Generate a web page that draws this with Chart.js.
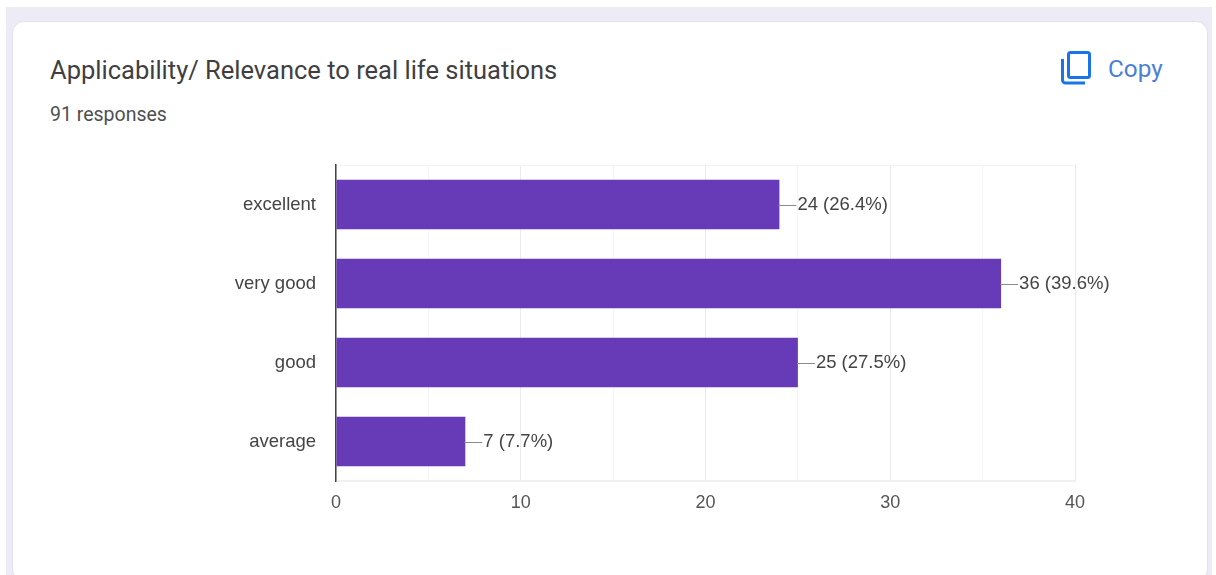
<!DOCTYPE html>
<html>
<head>
<meta charset="utf-8">
<title>Applicability/ Relevance to real life situations</title>
<script src="https://cdn.jsdelivr.net/npm/chart.js@4/dist/chart.umd.min.js"></script>
<style>
  html, body { margin: 0; padding: 0; background: #fff; overflow: hidden; }
  #page { position: absolute; left: 6px; top: 7px; width: 1206px; height: 568px; background: #ecebf6; }
  #card { position: absolute; left: 12px; top: 21px; width: 1196px; height: 560px; background: #fff;
          border: 1px solid #e3e2ea; border-radius: 12px; box-sizing: border-box; }
  #chart { position: absolute; left: 0; top: 0; }
  .txt { position: absolute; white-space: nowrap; }
  #title { left: 50px; top: 55px; font: 25.5px Roboto, sans-serif; color: #3f3f42; }
  #sub { left: 50px; top: 103px; font: 19.5px Roboto, sans-serif; color: #4f4f52; }
  #copy { left: 1108px; top: 54px; font: 24.3px Roboto, sans-serif; color: #4a7fd6; }
  #icon { position: absolute; left: 1060px; top: 50px; }
</style>
</head>
<body>
<div id="page"></div>
<div id="card"></div>
<div class="txt" id="title">Applicability/ Relevance to real life situations</div>
<div class="txt" id="sub">91 responses</div>
<svg id="icon" width="32" height="36" viewBox="0 0 32 36" fill="none" stroke="#1a73e8" stroke-width="3">
  <rect x="8.5" y="2.5" width="21" height="25" rx="2"/>
  <path d="M2.5 9 V30 a3 3 0 0 0 3 3 H25"/>
</svg>
<div class="txt" id="copy">Copy</div>
<canvas id="chart" width="1216" height="575"></canvas>
<script>
const categories = ["excellent", "very good", "good", "average"];
const counts = [24, 36, 25, 7];
const barLabels = ["24 (26.4%)", "36 (39.6%)", "25 (27.5%)", "7 (7.7%)"];
const xMax = 40;
const xStep = 5;

// leader line and count label at the end of every bar
const barLabelPlugin = {
    id: "barLabels",
    afterDatasetsDraw(chart) {
        const ctx = chart.ctx;
        ctx.save();
        ctx.font = "18.5px 'Liberation Sans', Arial, sans-serif";
        ctx.textBaseline = "middle";
        chart.getDatasetMeta(0).data.forEach((bar, i) => {
            const y = Math.round(bar.y);
            ctx.strokeStyle = "#8a8a8a";
            ctx.lineWidth = 1;
            ctx.beginPath();
            ctx.moveTo(bar.x - 1, y + 0.5);
            ctx.lineTo(bar.x + 17, y + 0.5);
            ctx.stroke();
            ctx.fillStyle = "#444";
            ctx.fillText(barLabels[i], bar.x + 18, bar.y);
        });
        ctx.restore();
    }
};

new Chart(document.getElementById("chart"), {
    type: "bar",
    data: {
        labels: categories,
        datasets: [{
            data: counts,
            backgroundColor: "#673ab7",
            barPercentage: 0.625,
            categoryPercentage: 1
        }]
    },
    plugins: [barLabelPlugin],
    options: {
        indexAxis: "y",
        responsive: false,
        animation: false,
        layout: {padding: {left: 0, top: 165, right: 141, bottom: 0}},
        plugins: {legend: {display: false}, tooltip: {enabled: false}},
        scales: {
            x: {
                min: 0,
                max: xMax,
                afterFit: (scale) => { scale.height = 94; },
                border: {display: true, color: "#f0f0f0", width: 2},
                grid: {
                    drawTicks: false,
                    color: (c) => (c.tick.value % 10 === 0 ? "#ebebeb" : "#f5f5f5"),
                },
                ticks: {
                    stepSize: xStep,
                    maxRotation: 0,
                    autoSkip: false,
                    padding: 11,
                    color: "#555",
                    font: {family: "'Liberation Sans', Arial, sans-serif", size: 18},
                    callback: (v) => (v % 10 === 0 ? v : "")
                }
            },
            y: {
                afterFit: (scale) => { scale.width = 336; },
                border: {display: true, color: "#444", width: 1.5},
                grid: {
                    drawTicks: false,
                    color: (c) => (c.index === 0 ? "#f3f3f3" : "transparent")
                },
                ticks: {
                    padding: 20,
                    color: "#444",
                    font: {family: "'Liberation Sans', Arial, sans-serif", size: 18.5}
                }
            }
        }
    }
});
</script>
</body>
</html>
